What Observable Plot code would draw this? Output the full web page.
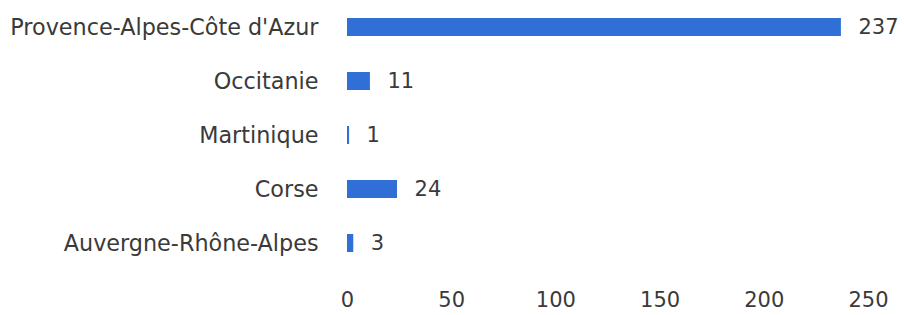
<!DOCTYPE html>
<html><head><meta charset="utf-8">
<script src="https://cdn.jsdelivr.net/npm/d3@7"></script>
<script src="https://cdn.jsdelivr.net/npm/@observablehq/plot@0.6"></script>
<style>body{margin:0;background:#fff}</style>
</head><body><div id="chart"></div>
<script>
const regions = ["Provence-Alpes-Côte d'Azur","Occitanie","Martinique","Corse","Auvergne-Rhône-Alpes"];
const counts = [237, 11, 1, 24, 3];
const xTicks = [0, 50, 100, 150, 200, 250];
const data = regions.map((r, i) => ({region: r, count: counts[i]}));
const chart = Plot.plot({
  width: 904, height: 315,
  marginLeft: 347, marginRight: 36, marginTop: 0, marginBottom: 45,
  style: {fontFamily: "DejaVu Sans", fontSize: "21px", color: "#3a3a3a"},
  x: {domain: [0, 250], ticks: xTicks, tickSize: 0, tickPadding: 22, label: null, fontSize: 21},
  y: {domain: regions, paddingInner: 0.667, paddingOuter: 0.333, tickSize: 0, tickPadding: 29, label: null},
  marks: [
    Plot.axisY({tickSize: 0, tickPadding: 29, fontSize: 22.3, label: null}),
    Plot.axisX({ticks: xTicks, tickSize: 0, tickPadding: 22, fontSize: 21, label: null}),
    Plot.barX(data, {y: "region", x: "count", fill: "#2f6fd6"}),
    Plot.text(data, {y: "region", x: "count", text: d => String(d.count), textAnchor: "start", dx: 17, fill: "#3a3a3a", fontSize: 21})
  ]
});
document.getElementById("chart").append(chart);
</script></body></html>
